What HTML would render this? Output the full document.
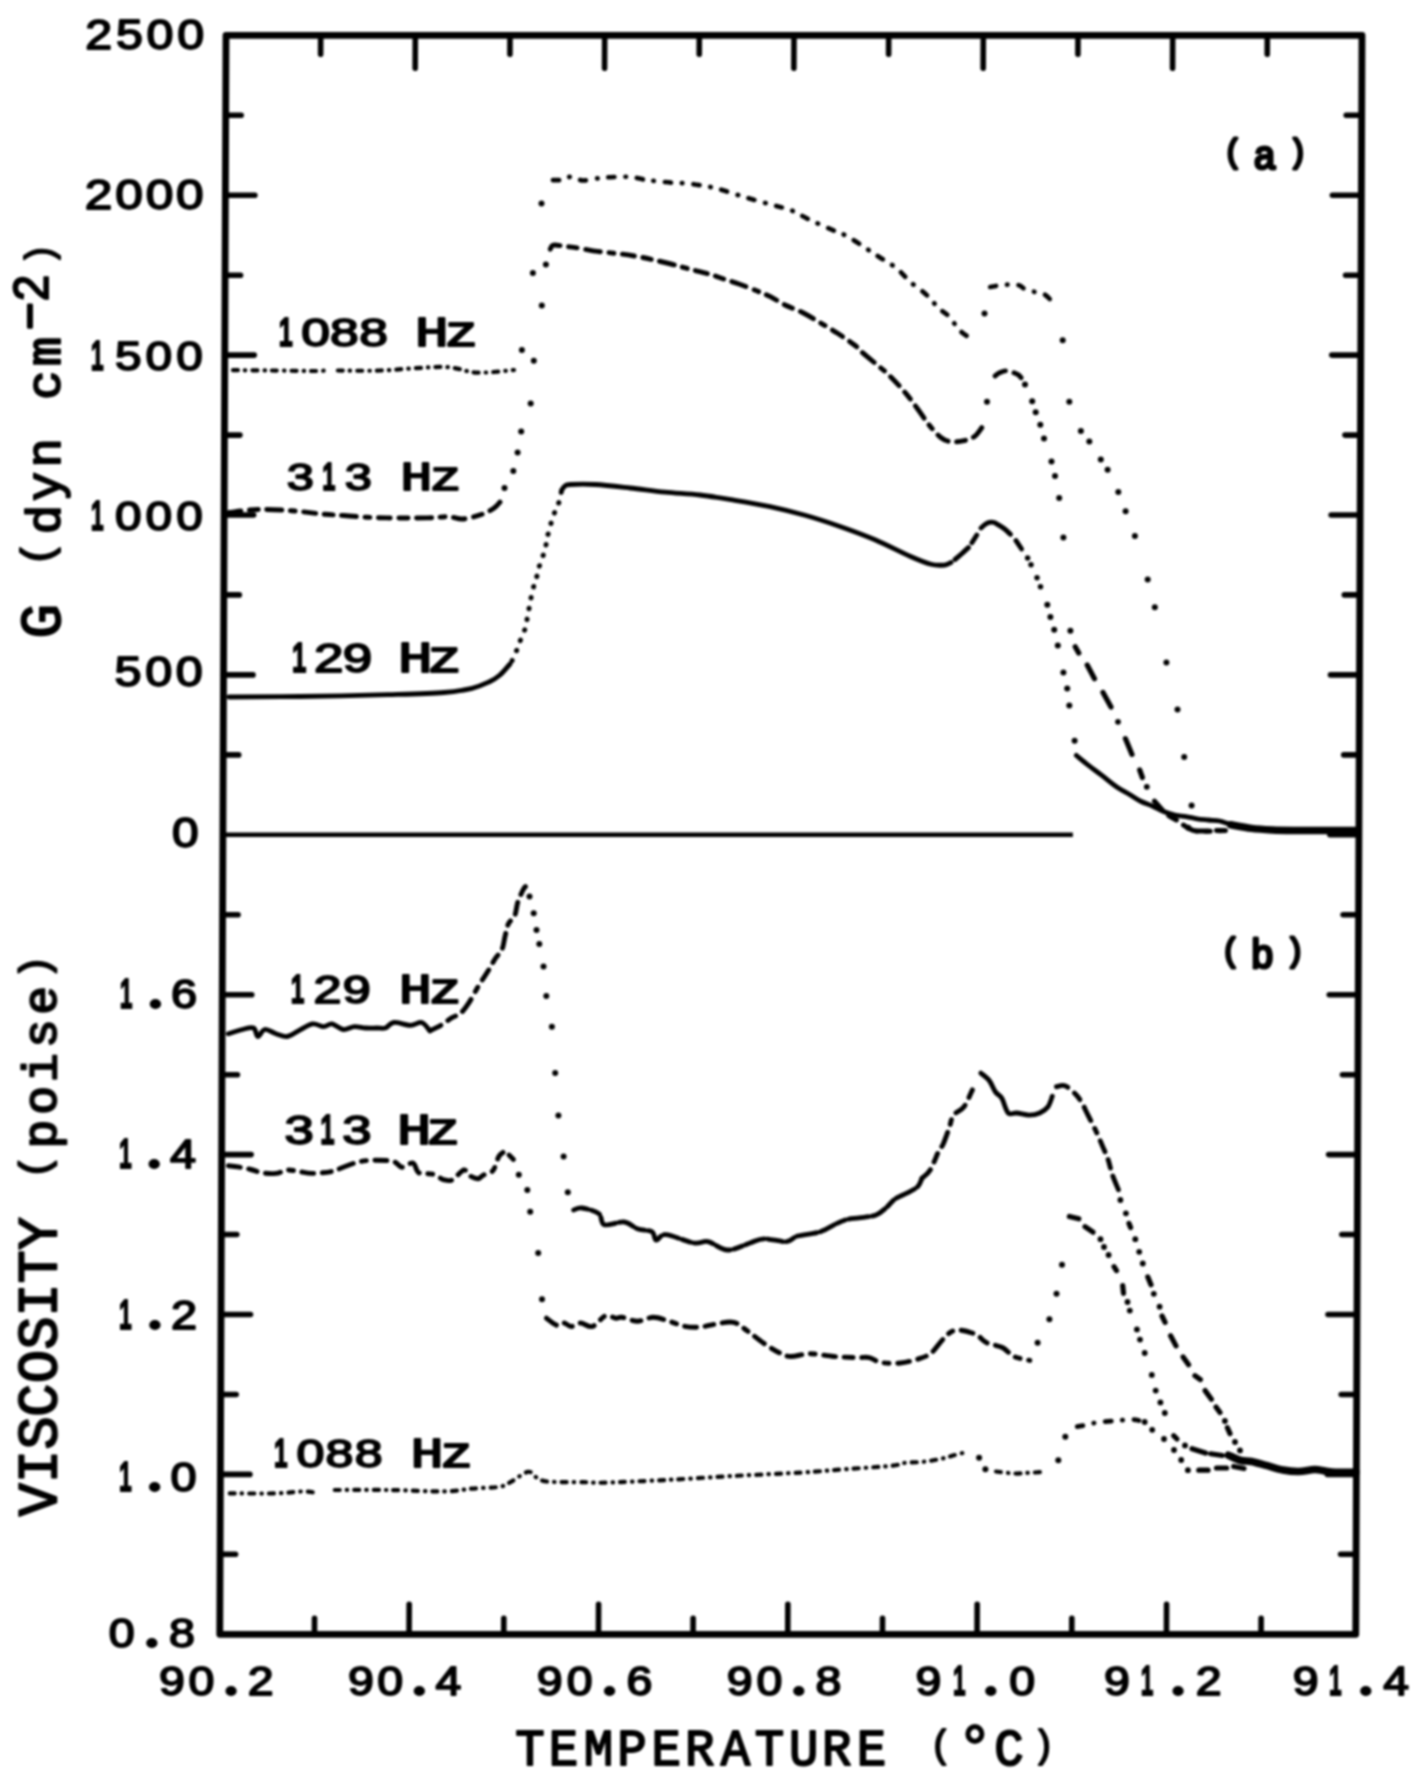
<!DOCTYPE html>
<html><head><meta charset="utf-8"><title>Plot</title>
<style>html,body{margin:0;padding:0;background:#fff;}svg{display:block;}</style>
</head><body>
<svg width="1428" height="1785" viewBox="0 0 1428 1785">
<defs><filter id="soft" filterUnits="userSpaceOnUse" x="0" y="0" width="1428" height="1785"><feGaussianBlur stdDeviation="0.85"/></filter></defs>
<rect width="1428" height="1785" fill="#fff"/>
<g filter="url(#soft)">
<g transform="matrix(1 0 -0.0039 1 0.138 0)" stroke="#000" fill="none">
<rect x="226.0" y="35.3" width="1136.0" height="1599.0" stroke-width="6.8" stroke-linejoin="round"/>
<path d="M320.7 35.3v19M320.7 1634.3v-16M415.3 35.3v33M415.3 1634.3v-30M510.0 35.3v19M510.0 1634.3v-16M604.7 35.3v33M604.7 1634.3v-30M699.3 35.3v19M699.3 1634.3v-16M794.0 35.3v33M794.0 1634.3v-30M888.7 35.3v19M888.7 1634.3v-16M983.3 35.3v33M983.3 1634.3v-30M1078.0 35.3v19M1078.0 1634.3v-16M1172.7 35.3v33M1172.7 1634.3v-30M1267.3 35.3v19M1267.3 1634.3v-16M226.0 115.2h15.5M1362.0 115.2h-15.5M226.0 195.2h29.5M1362.0 195.2h-29M226.0 275.2h15.5M1362.0 275.2h-15.5M226.0 355.1h29.5M1362.0 355.1h-29M226.0 435.1h15.5M1362.0 435.1h-15.5M226.0 515.0h29.5M1362.0 515.0h-29M226.0 594.9h15.5M1362.0 594.9h-15.5M226.0 674.9h29.5M1362.0 674.9h-29M226.0 754.9h15.5M1362.0 754.9h-15.5M1362.0 834.8h-29M226.0 914.8h15.5M1362.0 914.8h-15.5M226.0 994.7h29.5M1362.0 994.7h-29M226.0 1074.7h15.5M1362.0 1074.7h-15.5M226.0 1154.6h29.5M1362.0 1154.6h-29M226.0 1234.5h15.5M1362.0 1234.5h-15.5M226.0 1314.5h29.5M1362.0 1314.5h-29M226.0 1394.5h15.5M1362.0 1394.5h-15.5M226.0 1474.4h29.5M1362.0 1474.4h-29M226.0 1554.3h15.5M1362.0 1554.3h-15.5" stroke-width="5.6" stroke-linecap="round"/>
<path d="M226.0 834.8H1076" stroke-width="4.6"/>
</g>
<g fill="#000">
<path d="M229.0 697.0 C240.8 696.9 273.5 696.9 300.0 696.5 C326.5 696.1 364.0 695.4 388.0 694.7 C412.0 694.0 430.0 693.6 444.0 692.5 C458.0 691.4 464.5 690.0 472.0 688.3 C479.5 686.5 484.3 684.2 489.0 682.0 C493.7 679.8 496.5 678.0 500.0 675.0 C503.5 672.0 508.3 665.8 510.0 664.0" stroke="#000" stroke-width="4.8" fill="none" stroke-linecap="round" stroke-linejoin="round"/>
<path d="M512.0 660.8 C512.7 659.3 514.7 655.1 516.0 652.0 C517.3 648.9 518.2 646.0 519.7 642.0 C521.2 638.0 523.9 632.7 525.3 628.0 C526.7 623.3 526.8 620.0 528.0 614.0 C529.2 608.0 530.9 597.8 532.3 591.7 C533.7 585.6 535.3 581.8 536.5 577.6 C537.7 573.4 537.9 571.1 539.3 566.4 C540.7 561.7 543.6 554.7 545.0 549.6 C546.4 544.5 546.3 541.2 547.7 535.6 C549.1 530.0 551.4 521.6 553.3 516.0 C555.2 510.4 557.6 506.3 559.0 502.0 C560.4 497.7 561.2 492.0 561.7 490.0" stroke="#000" stroke-width="5" fill="none" stroke-linecap="round" stroke-dasharray="0.5 10.5"/>
<path d="M561.7 490.0 C562.2 489.3 563.5 486.9 565.0 486.0 C566.5 485.1 565.5 484.8 570.5 484.5 C575.5 484.2 585.1 483.9 595.0 484.5 C604.9 485.1 618.3 486.7 630.0 488.0 C641.7 489.3 653.3 491.0 665.0 492.2 C676.7 493.4 688.3 493.6 700.0 495.0 C711.7 496.4 723.3 498.4 735.0 500.3 C746.7 502.2 758.3 504.1 770.0 506.6 C781.7 509.1 793.3 512.0 805.0 515.3 C816.7 518.6 828.3 522.4 840.0 526.5 C851.7 530.6 863.3 534.8 875.0 539.8 C886.7 544.8 900.7 552.2 910.0 556.3 C919.3 560.4 925.2 562.8 931.0 564.3 C936.8 565.8 941.7 565.3 945.0 565.0 C948.3 564.7 950.0 562.9 951.0 562.5" stroke="#000" stroke-width="4.8" fill="none" stroke-linecap="round" stroke-linejoin="round"/>
<path d="M955.0 559.5 C956.2 558.5 959.8 555.5 962.0 553.5 C964.2 551.5 967.3 548.6 968.4 547.6" stroke="#000" stroke-width="4.9" fill="none" stroke-linecap="round" stroke-linejoin="round"/><path d="M971.9 542.7 L976.8 535.0" stroke="#000" stroke-width="4.9" fill="none" stroke-linecap="round" stroke-linejoin="round"/><path d="M981.0 528.0 C981.7 527.4 983.6 525.4 985.0 524.5 C986.4 523.6 987.9 522.7 989.4 522.4 C990.9 522.1 992.6 522.1 994.0 522.5 C995.4 522.9 996.1 523.5 997.8 524.5 C999.5 525.5 1001.9 526.9 1004.0 528.5 C1006.1 530.1 1009.3 533.3 1010.4 534.3" stroke="#000" stroke-width="4.9" fill="none" stroke-linecap="round" stroke-linejoin="round"/><path d="M1016.0 540.6 L1021.6 549.0" stroke="#000" stroke-width="4.9" fill="none" stroke-linecap="round" stroke-linejoin="round"/><circle cx="1027.6" cy="558.1" r="2.75"/><circle cx="1031.0" cy="564.8" r="2.75"/><circle cx="1037.0" cy="577.7" r="2.75"/><circle cx="1040.5" cy="586.8" r="2.75"/>
<circle cx="1047.3" cy="604.8" r="3"/><circle cx="1050.4" cy="617.0" r="3"/><circle cx="1054.2" cy="629.8" r="3"/><circle cx="1057.8" cy="645.5" r="3"/><circle cx="1063.4" cy="672.4" r="3"/><circle cx="1067.2" cy="688.6" r="3"/><circle cx="1069.3" cy="705.4" r="3"/><circle cx="1074.6" cy="740.7" r="3"/>
<path d="M1076.3 755.4 C1078.3 757.0 1084.0 761.9 1088.2 765.1 C1092.4 768.4 1096.5 771.3 1101.2 774.9 C1105.9 778.5 1111.6 783.5 1116.4 786.8 C1121.2 790.1 1125.9 792.2 1130.0 794.7 C1134.1 797.2 1137.5 799.6 1141.2 801.5 C1144.9 803.4 1148.7 804.3 1152.4 806.0 C1156.1 807.7 1159.9 810.0 1163.6 811.5 C1167.3 813.0 1171.1 814.1 1174.8 815.0 C1178.5 815.9 1182.3 816.0 1186.0 816.6 C1189.7 817.2 1193.5 818.2 1197.2 818.8 C1200.9 819.4 1204.7 819.6 1208.4 820.0 C1212.1 820.4 1215.9 820.2 1219.6 821.0 C1223.3 821.8 1228.9 823.9 1230.8 824.5" stroke="#000" stroke-width="4.8" fill="none" stroke-linecap="round" stroke-linejoin="round"/>
<path d="M1230.8 824.8 C1234.2 825.4 1244.5 827.5 1251.5 828.4 C1258.5 829.3 1264.6 829.6 1272.5 830.0 C1280.4 830.4 1290.0 830.4 1298.8 830.5 C1307.5 830.6 1315.5 830.5 1325.0 830.5 C1334.5 830.5 1350.8 830.5 1356.0 830.5" stroke="#000" stroke-width="7.5" fill="none" stroke-linecap="round" stroke-linejoin="round"/>
<path d="M229.0 512.5 C233.8 512.0 247.6 509.8 258.0 509.5 C268.4 509.2 280.3 509.9 291.4 510.7 C302.5 511.5 316.1 513.5 324.8 514.3 C333.5 515.1 337.5 515.0 343.8 515.5 C350.1 516.0 355.8 516.6 362.9 517.0 C370.0 517.4 376.0 517.8 386.7 517.9 C397.4 518.0 416.7 518.1 427.0 517.9 C437.3 517.7 442.6 516.5 448.6 516.7 C454.6 516.9 457.3 519.4 462.9 519.0 C468.4 518.6 476.8 516.1 481.9 514.3 C487.0 512.5 490.8 510.4 493.8 508.3 C496.8 506.2 499.0 503.1 500.0 502.0" stroke="#000" stroke-width="4.9" fill="none" stroke-linecap="round" stroke-dasharray="12 8.5 9 8.5 15 8.5 5 8.5"/>
<circle cx="504.5" cy="488.0" r="3"/><circle cx="513.3" cy="471.0" r="3"/><circle cx="517.6" cy="452.4" r="3"/><circle cx="521.2" cy="431.4" r="3"/><circle cx="530.7" cy="403.6" r="3"/><circle cx="541.8" cy="305.6" r="3"/><circle cx="532.9" cy="272.9" r="3"/><circle cx="545.9" cy="264.4" r="3"/>
<path d="M550.3 249.2 C550.8 248.5 550.9 245.5 553.5 245.1 C556.1 244.7 562.6 246.1 566.0 246.5 C569.4 246.9 570.9 247.0 574.0 247.4 C577.1 247.8 580.9 248.5 584.8 249.2 C588.7 249.9 591.4 250.6 597.4 251.4 C603.4 252.2 613.9 253.1 621.0 254.0 C628.1 254.9 634.5 256.0 640.0 257.0 C645.5 258.0 648.8 258.8 654.0 260.0 C659.2 261.2 665.3 262.6 671.0 264.0 C676.7 265.4 681.7 267.0 688.0 268.7 C694.3 270.4 703.1 272.3 709.0 274.0 C714.9 275.7 718.6 277.3 723.6 279.0 C728.6 280.7 733.3 281.9 739.0 284.0 C744.7 286.1 752.6 289.2 757.8 291.3 C763.0 293.4 765.9 294.3 770.4 296.6 C774.9 298.9 779.7 302.4 785.0 305.0 C790.3 307.6 796.4 309.5 802.0 312.3 C807.6 315.1 812.8 318.3 818.7 321.8 C824.6 325.3 831.6 329.4 837.6 333.3 C843.6 337.2 850.6 342.0 854.5 345.0 C858.4 348.0 857.8 348.6 861.0 351.4 C864.2 354.2 869.1 358.1 873.6 362.0 C878.1 365.9 883.1 369.4 888.3 374.5 C893.5 379.6 900.1 386.6 905.0 392.4 C909.9 398.1 913.8 403.8 917.7 409.0 C921.6 414.2 924.4 419.1 928.2 423.9 C932.1 428.6 936.9 434.5 940.8 437.5 C944.6 440.5 947.4 441.2 951.3 441.7 C955.2 442.2 960.1 441.6 964.0 440.7 C967.9 439.8 971.5 438.7 974.5 436.5 C977.5 434.3 980.6 429.1 981.8 427.6" stroke="#000" stroke-width="4.9" fill="none" stroke-linecap="round" stroke-dasharray="12 8.5 9 8.5 15 8.5 5 8.5"/>
<circle cx="987.0" cy="401.8" r="3"/>
<path d="M995.0 376.0 C995.8 375.4 998.0 373.3 1000.0 372.5 C1002.0 371.7 1003.9 370.6 1007.0 371.0 C1010.1 371.4 1015.6 372.8 1018.6 375.0 C1021.6 377.2 1023.9 382.5 1024.9 384.0" stroke="#000" stroke-width="4.9" fill="none" stroke-linecap="round" stroke-dasharray="12 8.5 9 8.5 15 8.5 5 8.5"/>
<circle cx="1025.0" cy="384.4" r="3"/><circle cx="1032.2" cy="401.2" r="3"/><circle cx="1035.7" cy="412.2" r="3"/><circle cx="1040.3" cy="424.8" r="3"/><circle cx="1044.0" cy="438.4" r="3"/><circle cx="1051.5" cy="461.6" r="3"/><circle cx="1055.0" cy="476.0" r="3"/><circle cx="1059.2" cy="498.0" r="3"/><circle cx="1063.4" cy="537.6" r="3"/><circle cx="1070.4" cy="630.8" r="3"/>
<path d="M1075.2 646.8 L1078.8 653.1" stroke="#000" stroke-width="5.2" fill="none" stroke-linecap="round" stroke-linejoin="round"/><path d="M1087.2 665.0 L1094.5 678.7" stroke="#000" stroke-width="5.2" fill="none" stroke-linecap="round" stroke-linejoin="round"/><path d="M1103.0 692.4 L1111.0 707.1" stroke="#000" stroke-width="5.2" fill="none" stroke-linecap="round" stroke-linejoin="round"/><circle cx="1118.0" cy="721.8" r="2.90"/><path d="M1125.4 738.6 L1132.0 754.4" stroke="#000" stroke-width="5.2" fill="none" stroke-linecap="round" stroke-linejoin="round"/><path d="M1139.7 770.0 L1142.4 777.5" stroke="#000" stroke-width="5.2" fill="none" stroke-linecap="round" stroke-linejoin="round"/><circle cx="1146.8" cy="786.8" r="2.90"/>
<path d="M1154.4 801.0 C1156.4 803.2 1162.6 810.8 1166.4 814.0 C1170.2 817.2 1173.6 818.2 1177.2 820.5 C1180.8 822.8 1184.4 826.2 1188.0 828.0 C1191.6 829.8 1192.8 830.9 1199.0 831.3 C1205.2 831.7 1220.7 830.7 1225.0 830.6" stroke="#000" stroke-width="4.9" fill="none" stroke-linecap="round" stroke-dasharray="12 8.5 9 8.5 15 8.5 5 8.5"/>
<path d="M233.0 370.2 C239.2 370.2 256.3 370.4 270.0 370.5 C283.7 370.6 305.9 371.0 315.0 371.0 C324.1 371.0 323.2 370.6 324.8 370.5" stroke="#000" stroke-width="4.2" fill="none" stroke-linecap="round" stroke-dasharray="5 7 0.5 7"/>
<path d="M337.9 370.5 C344.9 370.5 362.4 371.1 380.0 370.5 C397.6 369.9 427.6 366.6 443.8 367.0 C460.0 367.4 465.3 372.1 477.0 372.6 C488.7 373.1 507.8 370.4 514.0 370.0" stroke="#000" stroke-width="4.2" fill="none" stroke-linecap="round" stroke-dasharray="5 7 0.5 7"/>
<circle cx="521.9" cy="350.0" r="3"/><circle cx="533.8" cy="360.7" r="3"/><circle cx="541.5" cy="203.5" r="3"/>
<path d="M553.0 180.2 C554.9 180.1 561.1 180.3 564.2 179.7 C567.3 179.1 568.3 176.5 571.4 176.6 C574.5 176.7 578.2 180.3 583.0 180.5 C587.8 180.7 594.8 178.6 600.0 178.0 C605.2 177.4 608.8 177.2 614.0 177.0 C619.2 176.8 625.7 176.5 631.0 177.0 C636.3 177.5 641.8 179.3 646.0 180.0 C650.2 180.7 651.8 180.6 656.0 181.0 C660.2 181.4 665.7 182.2 671.0 182.6 C676.3 183.0 682.3 183.0 688.0 183.6 C693.7 184.2 699.7 185.0 705.0 186.0 C710.3 187.0 713.0 187.4 720.0 189.4 C727.0 191.4 738.2 195.2 747.0 197.8 C755.8 200.4 765.1 202.9 772.5 205.0 C779.9 207.1 785.1 207.9 791.4 210.4 C797.6 212.9 803.0 216.7 810.0 220.0 C817.0 223.3 827.1 227.6 833.4 230.4 C839.7 233.2 842.4 233.6 848.0 236.7 C853.6 239.8 861.4 245.3 867.0 249.0 C872.6 252.7 876.8 255.5 881.8 258.7 C886.8 261.9 891.9 264.5 896.7 268.4 C901.5 272.3 905.9 278.0 910.4 282.0 C914.9 286.0 920.5 289.6 924.0 292.6 C927.5 295.6 928.9 297.4 931.4 300.0 C933.9 302.6 935.7 305.5 938.7 308.3 C941.7 311.1 945.7 313.0 949.2 316.7 C952.7 320.4 956.0 326.7 959.7 330.4 C963.4 334.1 969.4 337.4 971.3 338.8" stroke="#000" stroke-width="4.7" fill="none" stroke-linecap="round" stroke-dasharray="6 11 0.5 11"/>
<circle cx="984.5" cy="313.6" r="3"/>
<path d="M990.2 287.0 C992.7 286.6 1000.3 285.1 1005.0 284.8 C1009.7 284.5 1015.5 284.6 1018.6 285.2 C1021.7 285.8 1021.4 287.3 1023.8 288.4 C1026.2 289.4 1029.7 290.6 1033.0 291.5 C1036.3 292.4 1040.8 292.5 1043.8 294.0 C1046.8 295.5 1049.8 299.2 1051.0 300.3" stroke="#000" stroke-width="4.7" fill="none" stroke-linecap="round" stroke-dasharray="6 11 0.5 11"/>
<circle cx="1062.7" cy="340.3" r="3"/><circle cx="1069.3" cy="401.7" r="3"/><circle cx="1080.9" cy="431.1" r="3"/><circle cx="1089.3" cy="441.4" r="3"/><circle cx="1100.8" cy="459.5" r="3"/><circle cx="1107.6" cy="469.7" r="3"/><circle cx="1118.3" cy="492.0" r="3"/><circle cx="1125.6" cy="511.3" r="3"/><circle cx="1134.9" cy="536.1" r="3"/><circle cx="1147.7" cy="579.6" r="3"/><circle cx="1154.8" cy="607.3" r="3"/><circle cx="1166.4" cy="662.6" r="3"/><circle cx="1177.5" cy="709.6" r="3"/><circle cx="1184.2" cy="757.1" r="3"/><circle cx="1191.6" cy="805.4" r="3"/><circle cx="1188.3" cy="827.8" r="3"/>
<path d="M1196.0 831.0 C1198.0 831.0 1205.0 831.1 1208.0 831.0 C1211.0 830.9 1210.7 830.7 1214.0 830.6 C1217.3 830.5 1225.7 830.6 1228.0 830.6" stroke="#000" stroke-width="4.9" fill="none" stroke-linecap="round" stroke-dasharray="12 8.5 9 8.5 15 8.5 5 8.5"/>
<path d="M228.4 1033.7 C230.7 1033.0 238.2 1030.5 242.4 1029.5 C246.6 1028.5 251.0 1026.8 253.6 1028.0 C256.2 1029.2 255.9 1036.2 257.8 1036.5 C259.7 1036.8 261.8 1030.0 264.8 1029.5 C267.8 1029.0 272.3 1032.5 276.0 1033.7 C279.7 1034.9 283.5 1037.0 287.2 1036.5 C290.9 1036.0 294.2 1033.0 298.4 1030.9 C302.6 1028.8 308.2 1024.6 312.4 1023.9 C316.6 1023.2 320.3 1026.7 323.6 1026.7 C326.9 1026.7 328.7 1023.4 332.0 1023.9 C335.3 1024.4 339.4 1029.0 343.2 1029.5 C346.9 1030.0 350.8 1027.0 354.5 1026.7 C358.2 1026.5 362.0 1027.8 365.7 1028.0 C369.4 1028.2 373.6 1028.0 376.9 1028.0 C380.2 1028.0 382.5 1028.9 385.3 1028.0 C388.1 1027.1 389.5 1023.0 393.7 1022.5 C397.9 1022.0 405.8 1025.3 410.5 1025.3 C415.2 1025.3 418.4 1021.6 421.7 1022.5 C424.9 1023.4 428.6 1029.5 430.0 1030.9" stroke="#000" stroke-width="4.8" fill="none" stroke-linecap="round" stroke-linejoin="round"/>
<path d="M430.0 1030.6 C431.9 1029.7 437.6 1027.2 441.3 1025.0 C445.0 1022.8 448.8 1019.5 452.0 1017.6 C455.2 1015.7 457.7 1015.9 460.5 1013.4 C463.3 1010.9 466.0 1007.3 469.0 1002.7 C472.0 998.1 475.4 991.0 478.6 985.7 C481.8 980.4 485.4 975.4 488.2 970.8 C491.0 966.2 493.3 961.5 495.6 958.0 C497.9 954.5 500.4 953.2 502.0 949.5 C503.6 945.8 504.1 939.9 505.2 935.6 C506.3 931.3 506.8 927.3 508.4 923.9 C510.0 920.5 513.2 919.1 514.8 915.4 C516.4 911.7 516.4 906.1 518.0 901.5 C519.6 896.9 522.7 890.2 524.4 887.7 C526.1 885.2 527.4 886.8 528.0 886.6" stroke="#000" stroke-width="4.9" fill="none" stroke-linecap="round" stroke-dasharray="12 8.5 9 8.5 15 8.5 5 8.5"/>
<circle cx="529.5" cy="896.4" r="3"/><circle cx="533.7" cy="913.2" r="3"/><circle cx="536.5" cy="930.0" r="3"/><circle cx="539.3" cy="944.0" r="3"/><circle cx="543.5" cy="966.4" r="3"/><circle cx="546.3" cy="995.9" r="3"/><circle cx="551.9" cy="1026.7" r="3"/><circle cx="555.2" cy="1073.1" r="3"/><circle cx="558.4" cy="1115.5" r="3"/><circle cx="563.6" cy="1156.5" r="3"/><circle cx="567.8" cy="1192.2" r="3"/>
<path d="M573.6 1210.0 C575.0 1209.7 577.8 1207.4 582.0 1208.0 C586.2 1208.6 595.1 1210.8 598.8 1213.6 C602.5 1216.4 600.2 1223.4 604.4 1224.8 C608.6 1226.2 618.4 1221.3 624.0 1222.0 C629.6 1222.7 633.3 1227.4 638.0 1229.0 C642.7 1230.6 649.0 1229.9 652.0 1231.8 C655.0 1233.7 653.9 1239.7 656.2 1240.2 C658.5 1240.7 659.7 1234.1 666.0 1234.6 C672.3 1235.1 687.0 1241.8 694.0 1243.0 C701.0 1244.2 702.4 1240.4 708.0 1241.6 C713.6 1242.8 720.7 1249.8 727.7 1250.0 C734.7 1250.2 744.0 1244.9 750.0 1243.0 C756.0 1241.1 757.9 1239.0 764.0 1238.8 C770.1 1238.6 780.9 1242.1 786.5 1241.6 C792.1 1241.1 792.1 1237.6 797.7 1236.0 C803.3 1234.4 813.5 1233.9 820.0 1231.8 C826.5 1229.7 832.3 1225.5 837.0 1223.4 C841.7 1221.3 844.3 1220.1 848.0 1219.2 C851.7 1218.3 854.6 1218.5 859.3 1217.8 C864.0 1217.1 871.5 1216.7 876.0 1215.0 C880.5 1213.3 883.2 1210.2 886.3 1207.6 C889.4 1205.0 891.2 1201.7 894.7 1199.2 C898.2 1196.8 903.4 1195.0 907.3 1192.9 C911.1 1190.8 915.3 1189.0 917.8 1186.6 C920.2 1184.1 921.3 1179.6 922.0 1178.2" stroke="#000" stroke-width="4.8" fill="none" stroke-linecap="round" stroke-linejoin="round" stroke-dasharray="15 3.5 9 3.5 20 3.5"/>
<path d="M922.0 1178.2 C923.4 1176.8 927.6 1174.3 930.4 1169.7 C933.2 1165.1 936.7 1155.0 938.8 1150.8 C940.9 1146.6 941.2 1148.3 943.0 1144.5 C944.8 1140.7 947.5 1132.6 949.3 1127.7 C951.0 1122.8 951.0 1118.6 953.5 1115.1 C956.0 1111.6 960.9 1110.9 964.0 1106.7 C967.1 1102.5 971.0 1092.7 972.4 1089.9" stroke="#000" stroke-width="4.9" fill="none" stroke-linecap="round" stroke-dasharray="12 8.5 9 8.5 15 8.5 5 8.5"/>
<path d="M980.8 1073.1 C982.2 1074.3 986.8 1077.3 989.2 1080.5 C991.7 1083.7 993.4 1089.0 995.5 1092.0 C997.6 1095.0 999.7 1094.8 1001.8 1098.3 C1003.9 1101.8 1005.7 1110.5 1008.2 1113.0 C1010.7 1115.5 1013.1 1112.7 1016.6 1113.0 C1020.1 1113.3 1025.4 1115.1 1029.2 1115.1 C1033.0 1115.1 1036.6 1114.4 1039.7 1113.0 C1042.8 1111.6 1045.9 1109.5 1048.0 1106.7 C1050.1 1103.9 1051.6 1098.0 1052.3 1096.2" stroke="#000" stroke-width="4.8" fill="none" stroke-linecap="round" stroke-linejoin="round"/>
<path d="M1056.5 1086.8 C1057.9 1086.6 1061.8 1084.5 1064.9 1085.7 C1068.1 1086.9 1072.6 1091.3 1075.4 1094.1 C1078.2 1096.9 1079.6 1099.0 1081.7 1102.5 C1083.8 1106.0 1085.5 1110.2 1088.0 1115.1 C1090.5 1120.0 1094.0 1126.8 1096.4 1132.0 C1098.9 1137.2 1100.8 1142.1 1102.7 1146.6 C1104.6 1151.1 1106.4 1154.6 1108.0 1159.2 C1109.6 1163.8 1110.4 1168.9 1112.1 1174.0 C1113.8 1179.1 1117.4 1187.1 1118.4 1189.7" stroke="#000" stroke-width="4.9" fill="none" stroke-linecap="round" stroke-dasharray="12 8.5 9 8.5 15 8.5 5 8.5"/>
<circle cx="1120.4" cy="1200.0" r="2.90"/><circle cx="1125.9" cy="1213.3" r="2.90"/><path d="M1129.0 1223.5 L1130.6 1227.5" stroke="#000" stroke-width="5.2" fill="none" stroke-linecap="round" stroke-linejoin="round"/><circle cx="1135.3" cy="1239.2" r="2.90"/><circle cx="1139.2" cy="1251.8" r="2.90"/><circle cx="1142.8" cy="1263.5" r="2.90"/><path d="M1147.8 1276.9 L1151.0 1284.7" stroke="#000" stroke-width="5.2" fill="none" stroke-linecap="round" stroke-linejoin="round"/><circle cx="1153.8" cy="1293.8" r="2.90"/><circle cx="1159.6" cy="1306.7" r="2.90"/><path d="M1162.0 1316.0 L1165.1 1322.4" stroke="#000" stroke-width="5.2" fill="none" stroke-linecap="round" stroke-linejoin="round"/><path d="M1170.6 1335.7 L1176.0 1345.9" stroke="#000" stroke-width="5.2" fill="none" stroke-linecap="round" stroke-linejoin="round"/><path d="M1183.1 1356.9 L1188.6 1364.7" stroke="#000" stroke-width="5.2" fill="none" stroke-linecap="round" stroke-linejoin="round"/><path d="M1194.9 1375.7 L1200.4 1379.6" stroke="#000" stroke-width="5.2" fill="none" stroke-linecap="round" stroke-linejoin="round"/><path d="M1205.1 1390.6 L1211.4 1399.2" stroke="#000" stroke-width="5.2" fill="none" stroke-linecap="round" stroke-linejoin="round"/><path d="M1216.0 1407.0 L1220.0 1412.5" stroke="#000" stroke-width="5.2" fill="none" stroke-linecap="round" stroke-linejoin="round"/><circle cx="1224.9" cy="1421.0" r="2.90"/><path d="M1227.4 1427.7 L1230.0 1433.6" stroke="#000" stroke-width="5.2" fill="none" stroke-linecap="round" stroke-linejoin="round"/><circle cx="1235.0" cy="1442.0" r="2.90"/><circle cx="1240.0" cy="1450.4" r="2.90"/>
<path d="M1228.4 1455.2 C1230.5 1456.1 1237.2 1459.5 1241.0 1460.5 C1244.8 1461.5 1247.1 1460.6 1251.5 1461.5 C1255.9 1462.4 1262.0 1464.3 1267.3 1465.7 C1272.5 1467.1 1277.8 1469.0 1283.0 1470.0 C1288.2 1471.0 1293.5 1471.6 1298.8 1471.5 C1304.0 1471.4 1310.1 1469.7 1314.5 1469.6 C1318.9 1469.5 1321.5 1470.5 1325.0 1471.0 C1328.5 1471.5 1330.3 1472.1 1335.5 1472.3 C1340.7 1472.5 1352.6 1472.0 1356.0 1472.0" stroke="#000" stroke-width="7.5" fill="none" stroke-linecap="round" stroke-linejoin="round"/>
<path d="M228.4 1165.8 C230.3 1166.0 235.9 1166.6 239.6 1167.2 C243.3 1167.8 247.1 1168.6 250.8 1169.5 C254.5 1170.4 257.8 1172.1 262.0 1172.8 C266.2 1173.5 271.8 1173.9 276.0 1173.4 C280.2 1172.9 283.5 1170.3 287.2 1170.0 C290.9 1169.7 294.2 1170.8 298.4 1171.4 C302.6 1172.0 306.8 1173.4 312.4 1173.4 C318.0 1173.4 326.9 1172.4 332.0 1171.4 C337.1 1170.4 338.5 1168.8 343.2 1167.2 C347.9 1165.6 354.4 1162.8 360.0 1161.6 C365.6 1160.4 371.3 1160.2 376.9 1160.2 C382.5 1160.2 389.5 1160.4 393.7 1161.6 C397.9 1162.8 398.8 1167.0 402.0 1167.2 C405.2 1167.4 410.2 1162.1 413.0 1163.0 C415.8 1163.9 415.6 1170.9 418.9 1172.8 C422.2 1174.7 428.7 1173.0 432.9 1174.2 C437.1 1175.4 440.7 1178.9 444.0 1179.8 C447.3 1180.7 449.2 1181.4 452.5 1179.8 C455.8 1178.2 460.8 1170.7 463.7 1170.0 C466.6 1169.3 467.6 1174.4 470.0 1175.9 C472.4 1177.4 476.0 1178.9 478.2 1178.8 C480.4 1178.7 480.6 1176.6 483.0 1175.3 C485.4 1174.0 490.3 1172.8 492.4 1171.2 C494.4 1169.6 494.2 1168.4 495.3 1165.9 C496.4 1163.5 497.5 1158.8 498.8 1156.5 C500.1 1154.2 502.3 1153.1 503.0 1152.4" stroke="#000" stroke-width="4.9" fill="none" stroke-linecap="round" stroke-dasharray="12 8.5 9 8.5 15 8.5 5 8.5"/>
<path d="M509.0 1155.0 L513.5 1159.4" stroke="#000" stroke-width="4.9" fill="none" stroke-linecap="round" stroke-dasharray="12 8.5 9 8.5 15 8.5 5 8.5"/>
<circle cx="518.8" cy="1174.7" r="3"/><circle cx="527.3" cy="1190.0" r="3"/><circle cx="530.2" cy="1211.8" r="3"/><circle cx="538.2" cy="1253.0" r="3"/><circle cx="542.0" cy="1299.2" r="3"/>
<path d="M546.5 1318.2 C548.2 1319.4 554.1 1324.5 557.0 1325.3 C559.9 1326.1 561.6 1322.8 564.0 1323.0 C566.4 1323.2 568.4 1326.5 571.2 1326.5 C574.0 1326.5 577.1 1323.0 580.6 1323.0 C584.1 1323.0 588.3 1327.7 592.4 1326.5 C596.5 1325.3 601.4 1317.3 605.3 1315.9 C609.2 1314.5 613.1 1318.0 615.9 1318.2 C618.7 1318.4 618.4 1316.8 622.0 1317.3 C625.6 1317.8 632.4 1321.2 637.6 1321.2 C642.8 1321.2 648.1 1317.3 653.3 1317.3 C658.5 1317.3 663.8 1319.7 669.0 1321.2 C674.2 1322.7 679.5 1325.3 684.7 1326.3 C689.9 1327.3 695.2 1327.4 700.4 1327.0 C705.6 1326.6 710.5 1324.8 716.0 1324.0 C721.5 1323.2 728.5 1321.2 733.7 1322.4 C739.0 1323.6 742.6 1327.6 747.5 1331.0 C752.4 1334.4 757.8 1339.1 763.0 1342.7 C768.2 1346.3 774.2 1350.2 778.8 1352.5 C783.4 1354.8 785.4 1356.3 790.6 1356.5 C795.8 1356.7 802.8 1353.7 810.0 1353.7 C817.2 1353.7 825.8 1355.8 833.7 1356.5 C841.6 1357.2 851.4 1357.4 857.3 1357.6 C863.2 1357.8 865.1 1356.8 869.0 1357.6 C872.9 1358.4 875.6 1361.5 880.8 1362.4 C886.0 1363.3 893.9 1363.7 900.4 1363.0 C906.9 1362.3 914.8 1360.2 920.0 1358.4 C925.2 1356.7 927.9 1355.8 931.8 1352.5 C935.7 1349.2 939.6 1342.5 943.5 1338.8 C947.4 1335.1 950.0 1331.0 955.3 1330.2 C960.5 1329.4 969.8 1331.9 975.0 1334.0 C980.2 1336.1 982.1 1340.5 986.7 1342.7 C991.3 1345.0 997.9 1345.2 1002.4 1347.5 C1006.9 1349.8 1009.4 1354.3 1014.0 1356.5 C1018.6 1358.7 1027.2 1359.8 1029.8 1360.4" stroke="#000" stroke-width="4.9" fill="none" stroke-linecap="round" stroke-dasharray="12 8.5 9 8.5 15 8.5 5 8.5"/>
<circle cx="1037.6" cy="1342.7" r="3"/><circle cx="1049.4" cy="1319.2" r="3"/><circle cx="1056.5" cy="1293.7" r="3"/><circle cx="1062.0" cy="1264.7" r="3"/>
<path d="M1069.4 1216.5 L1078.8 1218.8" stroke="#000" stroke-width="5.2" fill="none" stroke-linecap="round" stroke-linejoin="round"/><path d="M1085.0 1226.7 L1093.0 1232.2" stroke="#000" stroke-width="5.2" fill="none" stroke-linecap="round" stroke-linejoin="round"/><circle cx="1100.5" cy="1239.2" r="2.90"/><circle cx="1104.0" cy="1247.0" r="2.90"/><circle cx="1108.6" cy="1255.0" r="2.90"/><path d="M1114.0 1266.7 L1116.5 1270.6" stroke="#000" stroke-width="5.2" fill="none" stroke-linecap="round" stroke-linejoin="round"/><path d="M1122.7 1285.5 L1123.5 1293.3" stroke="#000" stroke-width="5.2" fill="none" stroke-linecap="round" stroke-linejoin="round"/><circle cx="1127.5" cy="1302.0" r="2.90"/><circle cx="1129.8" cy="1310.6" r="2.90"/><circle cx="1136.9" cy="1329.4" r="2.90"/><circle cx="1140.0" cy="1339.6" r="2.90"/><circle cx="1144.7" cy="1353.0" r="2.90"/><circle cx="1151.8" cy="1374.9" r="2.90"/><circle cx="1155.7" cy="1390.6" r="2.90"/><circle cx="1160.4" cy="1402.4" r="2.90"/><circle cx="1164.8" cy="1413.0" r="2.90"/><circle cx="1174.0" cy="1450.0" r="2.90"/><circle cx="1181.2" cy="1460.0" r="2.90"/><circle cx="1187.9" cy="1470.2" r="2.90"/><path d="M1198.8 1470.2 L1208.0 1470.2" stroke="#000" stroke-width="5.2" fill="none" stroke-linecap="round" stroke-linejoin="round"/><path d="M1216.5 1468.0 L1226.6 1468.0" stroke="#000" stroke-width="5.2" fill="none" stroke-linecap="round" stroke-linejoin="round"/><path d="M1233.7 1466.5 L1244.0 1468.5" stroke="#000" stroke-width="5.2" fill="none" stroke-linecap="round" stroke-linejoin="round"/>
<path d="M229.8 1493.4 C237.5 1493.4 263.6 1493.7 276.0 1493.4 C288.4 1493.1 297.0 1491.4 304.0 1491.4 C311.0 1491.4 315.7 1493.1 318.0 1493.4" stroke="#000" stroke-width="4.2" fill="none" stroke-linecap="round" stroke-dasharray="5 7 0.5 7"/>
<path d="M334.8 1490.0 C343.7 1490.0 369.8 1489.8 388.0 1490.0 C406.2 1490.2 430.0 1491.6 444.0 1491.4 C458.0 1491.2 462.7 1489.4 472.0 1488.6 C481.3 1487.8 493.4 1487.9 500.0 1486.7 C506.6 1485.5 506.6 1484.1 511.3 1481.6 C516.0 1479.1 523.8 1472.5 528.0 1471.8 C532.2 1471.1 533.2 1475.8 536.5 1477.4 C539.8 1479.0 539.8 1480.8 547.7 1481.6 C555.6 1482.4 574.2 1482.0 584.0 1482.2 C593.8 1482.4 592.8 1483.0 606.7 1482.6 C620.6 1482.2 645.9 1481.0 667.2 1479.9 C688.5 1478.8 712.1 1477.1 734.5 1475.9 C756.9 1474.7 783.0 1473.6 801.7 1472.5 C820.4 1471.4 831.6 1470.2 846.5 1469.1 C861.4 1468.0 881.7 1466.8 891.3 1465.8 C900.9 1464.8 898.6 1463.7 904.2 1463.0 C909.9 1462.3 918.6 1462.4 925.2 1461.6 C931.9 1460.8 939.3 1459.1 944.1 1458.1 C948.9 1457.0 950.0 1456.3 953.9 1455.3 C957.8 1454.2 965.0 1452.4 967.2 1451.8" stroke="#000" stroke-width="4.2" fill="none" stroke-linecap="round" stroke-dasharray="5 7 0.5 7"/>
<circle cx="979.1" cy="1457.7" r="3"/><circle cx="985.4" cy="1469.3" r="3"/>
<path d="M996.0 1471.5 C999.1 1471.8 1009.4 1473.3 1014.8 1473.5 C1020.2 1473.7 1023.6 1473.0 1028.2 1472.8 C1032.8 1472.6 1039.9 1472.2 1042.2 1472.1" stroke="#000" stroke-width="4.2" fill="none" stroke-linecap="round" stroke-dasharray="5 7 0.5 7"/>
<circle cx="1058.3" cy="1460.2" r="3"/><circle cx="1065.3" cy="1436.7" r="3"/>
<path d="M1077.2 1426.6 C1078.5 1426.4 1081.5 1425.9 1084.9 1425.2 C1088.3 1424.5 1092.3 1423.2 1097.5 1422.4 C1102.7 1421.7 1110.5 1421.2 1116.3 1420.7 C1122.1 1420.2 1128.6 1419.5 1132.4 1419.5 C1136.2 1419.5 1137.9 1420.3 1139.0 1420.5" stroke="#000" stroke-width="4.7" fill="none" stroke-linecap="round" stroke-dasharray="6 11 0.5 11"/>
<circle cx="1144.7" cy="1422.0" r="2.90"/><circle cx="1152.2" cy="1429.8" r="2.90"/><circle cx="1164.0" cy="1439.0" r="2.90"/><path d="M1173.6 1435.7 L1177.0 1439.0" stroke="#000" stroke-width="5.2" fill="none" stroke-linecap="round" stroke-linejoin="round"/><circle cx="1185.0" cy="1445.4" r="2.90"/><path d="M1192.0 1448.7 L1205.5 1453.0" stroke="#000" stroke-width="5.2" fill="none" stroke-linecap="round" stroke-linejoin="round"/><path d="M1210.6 1453.8 L1222.4 1455.5" stroke="#000" stroke-width="5.2" fill="none" stroke-linecap="round" stroke-linejoin="round"/>
</g>
<g fill="#000" stroke="#000" stroke-width="1.8" stroke-linejoin="round" font-family="'Liberation Sans', sans-serif">
<text aria-label="2500" transform="matrix(1.1500 0 0 1 0 49.30)" x="74.25 100.86 127.47 154.09" y="0 0 0 0"><tspan font-family="'Liberation Sans', sans-serif" font-size="42.04">2500</tspan></text>
<text aria-label="2000" transform="matrix(1.1500 0 0 1 0 209.10)" x="73.76 100.20 126.64 153.08" y="0 0 0 0"><tspan font-family="'Liberation Sans', sans-serif" font-size="43.16">2000</tspan></text>
<text aria-label="1500" transform="matrix(1.1500 0 0 1 0 369.60)" x="78.95 100.02 126.59 153.16" y="0 0 0 0"><tspan font-family="'Liberation Sans', sans-serif" font-size="43.04" font-weight="bold" textLength="11.25" lengthAdjust="spacingAndGlyphs">1</tspan><tspan font-family="'Liberation Sans', sans-serif" font-size="41.48">500</tspan></text>
<text aria-label="1000" transform="matrix(1.1500 0 0 1 0 529.60)" x="78.95 100.02 126.59 153.16" y="0 0 0 0"><tspan font-family="'Liberation Sans', sans-serif" font-size="43.04" font-weight="bold" textLength="11.25" lengthAdjust="spacingAndGlyphs">1</tspan><tspan font-family="'Liberation Sans', sans-serif" font-size="41.48">000</tspan></text>
<text aria-label="500" transform="matrix(1.1500 0 0 1 0 686.10)" x="99.62 126.21 152.80" y="0 0 0"><tspan font-family="'Liberation Sans', sans-serif" font-size="42.18">500</tspan></text>
<text aria-label="0" transform="matrix(1.1500 0 0 1 0 847.10)" x="149.55" y="0"><tspan font-family="'Liberation Sans', sans-serif" font-size="41.62">0</tspan></text>
<text aria-label="1.6" transform="matrix(1.1500 0 0 1 0 1007.60)" x="104.19 128.26 148.77" y="0 0 0"><tspan font-family="'Liberation Sans', sans-serif" font-size="42.32" font-weight="bold" textLength="11.06" lengthAdjust="spacingAndGlyphs">1</tspan><tspan font-family="'Liberation Serif', serif" font-size="55.06" font-weight="bold" stroke-width="1.0">.</tspan><tspan font-family="'Liberation Sans', sans-serif" font-size="40.78">6</tspan></text>
<text aria-label="1.4" transform="matrix(1.1500 0 0 1 0 1168.10)" x="103.40 127.29 147.81" y="0 0 0"><tspan font-family="'Liberation Sans', sans-serif" font-size="42.32" font-weight="bold" textLength="11.06" lengthAdjust="spacingAndGlyphs">1</tspan><tspan font-family="'Liberation Serif', serif" font-size="55.06" font-weight="bold" stroke-width="1.0">.</tspan><tspan font-family="'Liberation Sans', sans-serif" font-size="40.78">4</tspan></text>
<text aria-label="1.2" transform="matrix(1.1500 0 0 1 0 1328.60)" x="103.40 127.75 148.62" y="0 0 0"><tspan font-family="'Liberation Sans', sans-serif" font-size="42.32" font-weight="bold" textLength="11.06" lengthAdjust="spacingAndGlyphs">1</tspan><tspan font-family="'Liberation Serif', serif" font-size="55.06" font-weight="bold" stroke-width="1.0">.</tspan><tspan font-family="'Liberation Sans', sans-serif" font-size="40.78">2</tspan></text>
<text aria-label="1.0" transform="matrix(1.1500 0 0 1 0 1490.60)" x="103.40 127.54 148.21" y="0 0 0"><tspan font-family="'Liberation Sans', sans-serif" font-size="42.32" font-weight="bold" textLength="11.06" lengthAdjust="spacingAndGlyphs">1</tspan><tspan font-family="'Liberation Serif', serif" font-size="55.06" font-weight="bold" stroke-width="1.0">.</tspan><tspan font-family="'Liberation Sans', sans-serif" font-size="40.78">0</tspan></text>
<text aria-label="0.8" transform="matrix(1.1500 0 0 1 0 1647.10)" x="94.64 125.22 146.88" y="0 0 0"><tspan font-family="'Liberation Sans', sans-serif" font-size="40.50">0</tspan><tspan font-family="'Liberation Serif', serif" font-size="54.68" font-weight="bold" stroke-width="1.0">.</tspan><tspan font-family="'Liberation Sans', sans-serif" font-size="40.50">8</tspan></text>
<text aria-label="90.2" transform="matrix(1.1500 0 0 1 0 1694.60)" x="138.36 164.02 194.08 215.36" y="0 0 0 0"><tspan font-family="'Liberation Sans', sans-serif" font-size="40.36">90</tspan><tspan font-family="'Liberation Serif', serif" font-size="54.49" font-weight="bold" stroke-width="1.0">.</tspan><tspan font-family="'Liberation Sans', sans-serif" font-size="40.36">2</tspan></text>
<text aria-label="90.4" transform="matrix(1.1500 0 0 1 0 1694.60)" x="302.62 327.98 357.73 378.81" y="0 0 0 0"><tspan font-family="'Liberation Sans', sans-serif" font-size="40.36">90</tspan><tspan font-family="'Liberation Serif', serif" font-size="54.49" font-weight="bold" stroke-width="1.0">.</tspan><tspan font-family="'Liberation Sans', sans-serif" font-size="40.36">4</tspan></text>
<text aria-label="90.6" transform="matrix(1.1500 0 0 1 0 1694.60)" x="466.79 492.80 523.20 544.72" y="0 0 0 0"><tspan font-family="'Liberation Sans', sans-serif" font-size="40.36">90</tspan><tspan font-family="'Liberation Serif', serif" font-size="54.49" font-weight="bold" stroke-width="1.0">.</tspan><tspan font-family="'Liberation Sans', sans-serif" font-size="40.36">6</tspan></text>
<text aria-label="90.8" transform="matrix(1.1500 0 0 1 0 1694.60)" x="632.01 657.72 687.82 709.04" y="0 0 0 0"><tspan font-family="'Liberation Sans', sans-serif" font-size="40.36">90</tspan><tspan font-family="'Liberation Serif', serif" font-size="54.49" font-weight="bold" stroke-width="1.0">.</tspan><tspan font-family="'Liberation Sans', sans-serif" font-size="40.36">8</tspan></text>
<text aria-label="91.0" transform="matrix(1.1500 0 0 1 0 1694.60)" x="796.10 828.60 854.80 877.56" y="0 0 0 0"><tspan font-family="'Liberation Sans', sans-serif" font-size="40.36">9</tspan><tspan font-family="'Liberation Sans', sans-serif" font-size="41.88" font-weight="bold" textLength="10.95" lengthAdjust="spacingAndGlyphs">1</tspan><tspan font-family="'Liberation Serif', serif" font-size="54.49" font-weight="bold" stroke-width="1.0">.</tspan><tspan font-family="'Liberation Sans', sans-serif" font-size="40.36">0</tspan></text>
<text aria-label="91.2" transform="matrix(1.1500 0 0 1 0 1694.60)" x="960.10 991.98 1017.56 1039.70" y="0 0 0 0"><tspan font-family="'Liberation Sans', sans-serif" font-size="40.36">9</tspan><tspan font-family="'Liberation Sans', sans-serif" font-size="41.88" font-weight="bold" textLength="10.95" lengthAdjust="spacingAndGlyphs">1</tspan><tspan font-family="'Liberation Serif', serif" font-size="54.49" font-weight="bold" stroke-width="1.0">.</tspan><tspan font-family="'Liberation Sans', sans-serif" font-size="40.36">2</tspan></text>
<text aria-label="91.4" transform="matrix(1.1500 0 0 1 0 1694.60)" x="1124.18 1155.73 1180.98 1202.90" y="0 0 0 0"><tspan font-family="'Liberation Sans', sans-serif" font-size="40.36">9</tspan><tspan font-family="'Liberation Sans', sans-serif" font-size="41.88" font-weight="bold" textLength="10.95" lengthAdjust="spacingAndGlyphs">1</tspan><tspan font-family="'Liberation Serif', serif" font-size="54.49" font-weight="bold" stroke-width="1.0">.</tspan><tspan font-family="'Liberation Sans', sans-serif" font-size="40.36">4</tspan></text>
<text aria-label="1088 Hz" transform="matrix(1.3000 0 0 1 0 345.90)" x="214.51 231.64 253.92 276.30 309.79 319.26 341.86" y="0 0 0 0 0 0 0"><tspan font-family="'Liberation Sans', sans-serif" font-size="41.16" font-weight="bold" textLength="10.76" lengthAdjust="spacingAndGlyphs">1</tspan><tspan font-family="'Liberation Sans', sans-serif" font-size="39.66">088 </tspan><tspan font-family="'Liberation Mono', monospace" font-size="43.03" stroke-width="2.0">Hz</tspan></text>
<text aria-label="313 Hz" transform="matrix(1.3000 0 0 1 0 489.60)" x="220.66 247.82 265.27 297.87 307.99 330.50" y="0 0 0 0 0 0"><tspan font-family="'Liberation Sans', sans-serif" font-size="37.43">3</tspan><tspan font-family="'Liberation Sans', sans-serif" font-size="38.84" font-weight="bold" textLength="10.15" lengthAdjust="spacingAndGlyphs">1</tspan><tspan font-family="'Liberation Sans', sans-serif" font-size="37.43">3 </tspan><tspan font-family="'Liberation Mono', monospace" font-size="40.61" stroke-width="2.0">Hz</tspan></text>
<text aria-label="129 Hz" transform="matrix(1.3000 0 0 1 0 672.10)" x="224.63 241.45 263.68 297.22 306.17 328.61" y="0 0 0 0 0 0"><tspan font-family="'Liberation Sans', sans-serif" font-size="42.32" font-weight="bold" textLength="11.06" lengthAdjust="spacingAndGlyphs">1</tspan><tspan font-family="'Liberation Sans', sans-serif" font-size="40.78">29 </tspan><tspan font-family="'Liberation Mono', monospace" font-size="44.24" stroke-width="2.0">Hz</tspan></text>
<text aria-label="129 Hz" transform="matrix(1.3000 0 0 1 0 1003.40)" x="223.62 241.09 263.67 297.00 306.99 329.79" y="0 0 0 0 0 0"><tspan font-family="'Liberation Sans', sans-serif" font-size="40.14" font-weight="bold" textLength="10.49" lengthAdjust="spacingAndGlyphs">1</tspan><tspan font-family="'Liberation Sans', sans-serif" font-size="38.69">29 </tspan><tspan font-family="'Liberation Mono', monospace" font-size="41.97" stroke-width="2.0">Hz</tspan></text>
<text aria-label="313 Hz" transform="matrix(1.3000 0 0 1 0 1143.90)" x="218.92 246.31 263.19 296.46 305.41 327.77" y="0 0 0 0 0 0"><tspan font-family="'Liberation Sans', sans-serif" font-size="40.50">3</tspan><tspan font-family="'Liberation Sans', sans-serif" font-size="42.03" font-weight="bold" textLength="10.99" lengthAdjust="spacingAndGlyphs">1</tspan><tspan font-family="'Liberation Sans', sans-serif" font-size="40.50">3 </tspan><tspan font-family="'Liberation Mono', monospace" font-size="43.94" stroke-width="2.0">Hz</tspan></text>
<text aria-label="1088 Hz" transform="matrix(1.3000 0 0 1 0 1466.70)" x="210.70 228.03 250.37 272.80 306.03 315.92 338.56" y="0 0 0 0 0 0 0"><tspan font-family="'Liberation Sans', sans-serif" font-size="40.00" font-weight="bold" textLength="10.46" lengthAdjust="spacingAndGlyphs">1</tspan><tspan font-family="'Liberation Sans', sans-serif" font-size="38.55">088 </tspan><tspan font-family="'Liberation Mono', monospace" font-size="41.82" stroke-width="2.0">Hz</tspan></text>
<text aria-label="(a)" transform="matrix(0.9500 0 0 1 0 168.80)" x="1288.13 1319.14 1356.40" y="-6.80 0 -6.80"><tspan font-family="'Liberation Mono', monospace" font-size="32.37" stroke-width="3.0">(</tspan><tspan font-family="'Liberation Mono', monospace" font-size="40.63" stroke-width="3.0">a</tspan><tspan font-family="'Liberation Mono', monospace" font-size="32.37" stroke-width="3.0">)</tspan></text>
<text aria-label="(b)" transform="matrix(0.9500 0 0 1 0 968.30)" x="1285.60 1316.40 1353.16" y="-6.94 0 -6.94"><tspan font-family="'Liberation Mono', monospace" font-size="33.04" stroke-width="3.0">(</tspan><tspan font-family="'Liberation Mono', monospace" font-size="41.47" stroke-width="3.0">b</tspan><tspan font-family="'Liberation Mono', monospace" font-size="33.04" stroke-width="3.0">)</tspan></text>
<text aria-label="TEMPERATURE (°C)" transform="matrix(0.9500 0 0 1 0 1764.50)" x="542.40 577.66 614.46 649.84 685.74 721.13 758.58 794.61 830.64 865.25 901.92 954.23 978.88 1006.91 1046.56 1087.06" y="0 0 0 0 0 0 0 0 0 0 0 0 -7.97 3.67 0 -7.97"><tspan font-family="'Liberation Mono', monospace" font-size="51.67" stroke-width="2.0">TEMPERATURE </tspan><tspan font-family="'Liberation Mono', monospace" font-size="37.93" stroke-width="2.0">(</tspan><tspan font-family="'Liberation Mono', monospace" font-size="64.58" stroke-width="2.0">°</tspan><tspan font-family="'Liberation Mono', monospace" font-size="51.67" stroke-width="2.0">C</tspan><tspan font-family="'Liberation Mono', monospace" font-size="37.93" stroke-width="2.0">)</tspan></text>
<text aria-label="VISCOSITY (poise)" transform="matrix(0 -1.0000 1 0 56.30 1516.00)" x="-0.27 33.01 66.58 99.32 132.88 166.45 199.46 232.75 266.04 315.83 337.00 367.54 401.31 434.12 468.01 501.18 536.84" y="0 0 0 0 0 0 0 0 0 0 -8.48 0 0 0 0 0 -8.48"><tspan font-family="'Liberation Mono', monospace" font-size="55.00" stroke-width="2.0">VISCOSITY </tspan><tspan font-family="'Liberation Mono', monospace" font-size="40.38" stroke-width="2.0">(</tspan><tspan font-family="'Liberation Mono', monospace" font-size="47.94" stroke-width="2.0">poise</tspan><tspan font-family="'Liberation Mono', monospace" font-size="40.38" stroke-width="2.0">)</tspan></text>
<text aria-label="G (dyn cm" transform="matrix(0 -1.0000 1 0 60.40 635.30)" x="-3.18 47.74 68.69 101.05 134.14 167.84 216.24 235.49 268.94" y="0 0 -8.92 0 0 0 0 0 0"><tspan font-family="'Liberation Mono', monospace" font-size="57.88" stroke-width="2.0">G </tspan><tspan font-family="'Liberation Mono', monospace" font-size="42.49" stroke-width="2.0">(</tspan><tspan font-family="'Liberation Mono', monospace" font-size="49.01" stroke-width="2.0">dyn cm</tspan></text>
<text aria-label="-2" transform="matrix(0 -0.9200 1 0 47.60 327.00)" x="-14.49 26.96" y="-3.36 0"><tspan font-family="'Liberation Mono', monospace" font-size="51.67" stroke-width="2.0" textLength="52.71" lengthAdjust="spacingAndGlyphs">-</tspan><tspan font-family="'Liberation Mono', monospace" font-size="51.67" stroke-width="2.0">2</tspan></text>
<text aria-label=")" transform="matrix(0 -0.9200 1 0 60.40 259.20)" x="-6.52" y="-8.29"><tspan font-family="'Liberation Mono', monospace" font-size="39.49" stroke-width="2.0">)</tspan></text>
</g>
</g>
</svg>
</body></html>
